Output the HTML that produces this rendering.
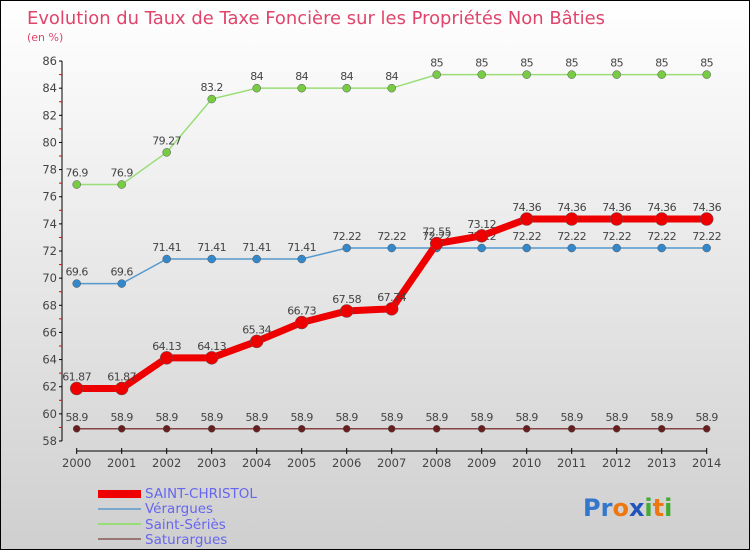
<!DOCTYPE html>
<html><head><meta charset="utf-8"><style>
body{margin:0;}
#c{width:748px;height:548px;border:1px solid #000;background:linear-gradient(#ffffff,#cfcfcf);position:relative;font-family:"DejaVu Sans","Liberation Sans",sans-serif;}
</style></head><body>
<div id="c">
<svg id="s" width="748" height="548" style="position:absolute;left:0;top:0">
<text x="26" y="23" font-size="17.5" fill="#e0446b" textLength="578" lengthAdjust="spacingAndGlyphs">Evolution du Taux de Taxe Foncière sur les Propriétés Non Bâties</text>
<text x="26" y="40" font-size="11" fill="#e0446b">(en %)</text>
<g id="axes"></g><g id="series"></g>
<g>
<rect x="97" y="489" width="43" height="8" fill="#ee0000"/>
<text x="144" y="497" font-size="13.5" fill="#6666ee">SAINT-CHRISTOL</text>
<rect x="97" y="507" width="43" height="2" fill="#7aa8cc"/>
<text x="144" y="512" font-size="13.5" fill="#6666ee">Vérargues</text>
<rect x="97" y="522" width="43" height="2" fill="#99dd77"/>
<text x="144" y="528" font-size="13.5" fill="#6666ee">Saint-Sériès</text>
<rect x="97" y="537" width="43" height="2" fill="#997777"/>
<text x="144" y="543" font-size="13.5" fill="#6666ee">Saturargues</text>
</g>
<text x="582" y="515" font-size="24" font-weight="bold"><tspan fill="#3377cc">Pr</tspan><tspan fill="#ee7711">o</tspan><tspan fill="#2255bb">x</tspan><tspan fill="#44aa33">i</tspan><tspan fill="#ee7711">t</tspan><tspan fill="#44aa33">i</tspan></text>
</svg>
</div>
<script>
const years=[2000,2001,2002,2003,2004,2005,2006,2007,2008,2009,2010,2011,2012,2013,2014];
const yTicks=[58,60,62,64,66,68,70,72,74,76,78,80,82,84,86];
const saintChristol=[61.87,61.87,64.13,64.13,65.34,66.73,67.58,67.74,72.55,73.12,74.36,74.36,74.36,74.36,74.36];
const verargues=[69.6,69.6,71.41,71.41,71.41,71.41,72.22,72.22,72.22,72.22,72.22,72.22,72.22,72.22,72.22];
const saintSeries=[76.9,76.9,79.27,83.2,84,84,84,84,85,85,85,85,85,85,85];
const saturargues=[58.9,58.9,58.9,58.9,58.9,58.9,58.9,58.9,58.9,58.9,58.9,58.9,58.9,58.9,58.9];
const NS="http://www.w3.org/2000/svg";
const X=i=>75.7+i*45.0, Y=v=>440-(v-58)*13.57;
function mk(t,a,p){const e=document.createElementNS(NS,t);for(const k in a)e.setAttribute(k,a[k]);p.appendChild(e);return e;}
const ax=document.getElementById('axes');
let l=mk('line',{x1:61,y1:Y(86),x2:61,y2:440,stroke:'#000'},ax);

l=mk('line',{x1:X(0),y1:450,x2:X(14),y2:450,stroke:'#000'},ax);

yTicks.forEach(v=>{mk('line',{x1:58,y1:Y(v),x2:61,y2:Y(v),stroke:'#000'},ax);
 if(v<86)mk('line',{x1:58,y1:Y(v+1),x2:61,y2:Y(v+1),stroke:'#e00'},ax);
 const t=mk('text',{x:56,y:Y(v)+4,'font-size':11.5,'text-anchor':'end',fill:'#444'},ax);t.textContent=v;
 });
years.forEach((y,i)=>{mk('line',{x1:X(i),y1:447,x2:X(i),y2:453,stroke:'#000'},ax);
 const t=mk('text',{x:X(i),y:466,'font-size':11.5,'text-anchor':'middle',fill:'#444'},ax);t.textContent=y;
 });
const sg=document.getElementById('series');
function series(d,col,dot,w,r,name){
 const g=mk('g',{},sg);
 mk('polyline',{points:d.map((v,i)=>X(i)+','+Y(v)).join(' '),fill:'none',stroke:col,'stroke-width':w},g);
 d.forEach((v,i)=>{const c=mk('circle',{cx:X(i),cy:Y(v),r:r,fill:dot,stroke:'#555','stroke-width':0.5},g);
  
  const t=mk('text',{x:X(i),y:Y(v)-8,'font-size':11,'text-anchor':'middle',fill:'#444','letter-spacing':'-0.5'},g);t.textContent=v;
  });
}
series(saturargues,'#884444','#661e1e',1.5,3.5,'saturargues-series');
series(saintSeries,'#99dd77','#77cc44',1.5,4,'saint-series-series');
series(verargues,'#5599cc','#3388cc',1.5,4,'verargues-series');
series(saintChristol,'#ee0000','#ee0000',7,6.5,'saint-christol-series');
</script>
</body></html>
